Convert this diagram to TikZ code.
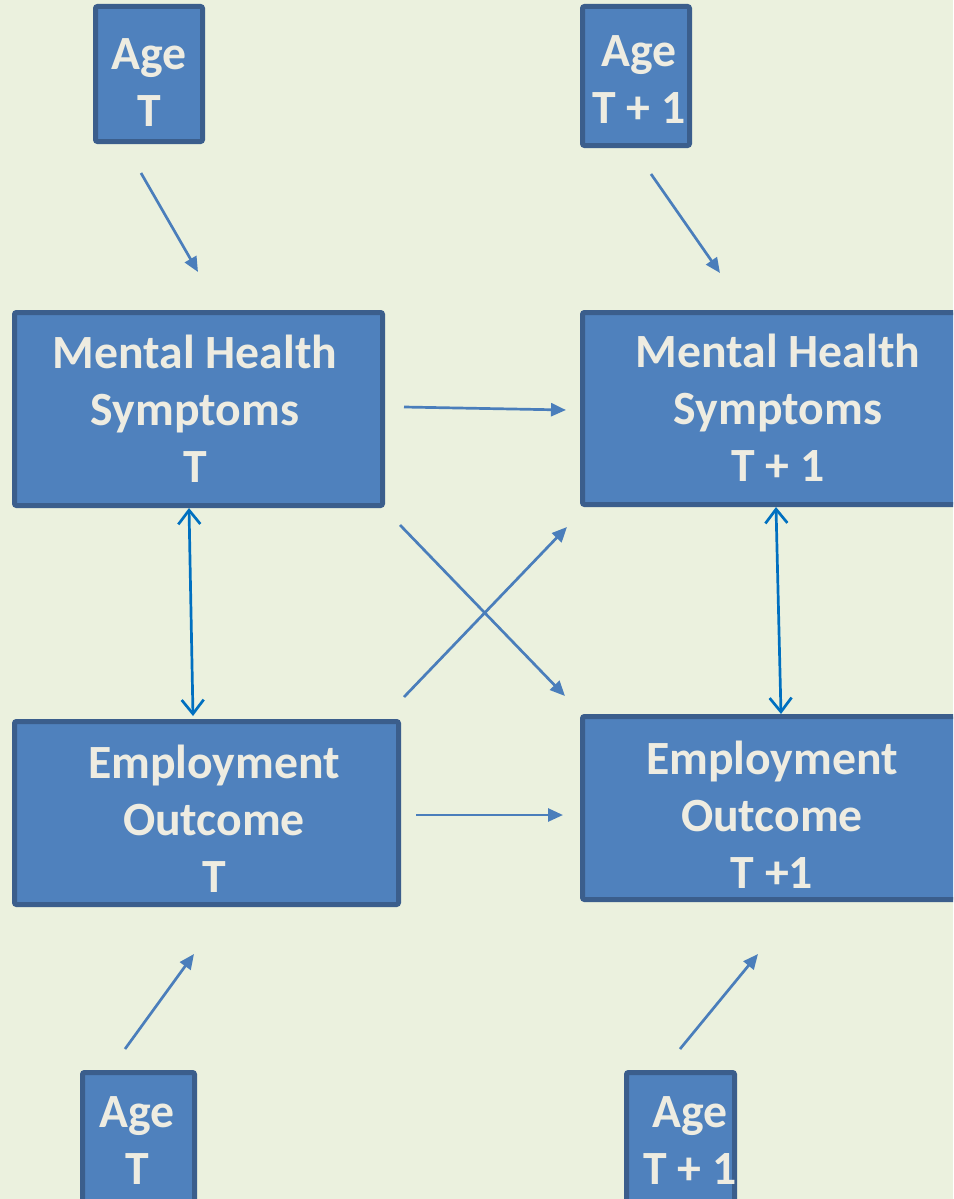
\documentclass[tikz,border=0pt]{standalone}
\usepackage{fontspec}
\setmainfont{Carlito}
\usetikzlibrary{arrows.meta}
\definecolor{bgc}{HTML}{EBF1DE}
\definecolor{boxfill}{HTML}{4F81BD}
\definecolor{boxline}{HTML}{3B5E8C}
\definecolor{txtc}{HTML}{EEECE1}
\definecolor{arrc}{HTML}{4A7EBB}
\definecolor{dblc}{HTML}{0070C0}
\tikzset{
  box/.style={draw=boxline, fill=boxfill, line width=5pt, rounded corners=2pt, inner sep=0pt},
  lbl/.style={text=txtc, font=\fontsize{47.7}{57}\selectfont\bfseries, align=center, inner sep=0pt},
  arr/.style={draw=arrc, line width=2.7pt, -{Triangle[length=15pt,width=13pt]}},
  dbl/.style={draw=dblc, line width=2.7pt, {Straight Barb[length=14pt,width=22pt,line width=2.7pt]}-{Straight Barb[length=14pt,width=22pt,line width=2.7pt]}}
}
\begin{document}
\begin{tikzpicture}[x=1pt,y=-1pt]
\useasboundingbox (0,0) rectangle (953,1199);
\fill[bgc] (0,0) rectangle (953,1199);
\clip (0,0) rectangle (953,1199);
% boxes
\node[box, minimum width=107pt, minimum height=135pt] (agetl) at (149,74) {};
\node[box, minimum width=107pt, minimum height=139pt] (agetr) at (636,76) {};
\node[box, minimum width=368pt, minimum height=193pt] (mht) at (198.5,409) {};
\node[box, minimum width=375pt, minimum height=192pt] (mht1) at (770,408.5) {};
\node[box, minimum width=384pt, minimum height=183pt] (empt) at (206.5,813) {};
\node[box, minimum width=375pt, minimum height=183pt] (empt1) at (770,808) {};
\node[box, minimum width=112pt, minimum height=145pt] (agebl) at (138.5,1145) {};
\node[box, minimum width=108pt, minimum height=145pt] (agebr) at (680.5,1145) {};
% labels
\node[lbl] (tagetl) at (149,83) {Age\\T};
\node[lbl] (tagetr) at (639,80) {Age\\T + 1};
\node[lbl] (tmht) at (195,409) {Mental Health\\Symptoms\\T};
\node[lbl] (tmht1) at (778,408) {Mental Health\\Symptoms\\T + 1};
\node[lbl] (tempt) at (214,819) {Employment\\Outcome\\T};
\node[lbl] (tempt1) at (772,815) {Employment\\Outcome\\T +1};
\node[lbl] (tagebl) at (137,1141) {Age\\T};
\node[lbl] (tagebr) at (690,1141) {Age\\T + 1};
% connector end points
\coordinate (a1s) at (141,173); \coordinate (a1e) at (198,272);
\coordinate (a2s) at (651,174); \coordinate (a2e) at (720,273);
\coordinate (hs) at (404,407);  \coordinate (he) at (566,410);
\coordinate (d1s) at (189,508); \coordinate (d1e) at (193,716);
\coordinate (d2s) at (776,507); \coordinate (d2e) at (781,714);
\coordinate (x1s) at (400,525); \coordinate (x1e) at (565,696);
\coordinate (x2s) at (404,697); \coordinate (x2e) at (567,527);
\coordinate (es) at (416,815);  \coordinate (ee) at (563,815);
\coordinate (b1s) at (125,1049); \coordinate (b1e) at (194,954);
\coordinate (b2s) at (680,1049); \coordinate (b2e) at (758,954);
% connectors
\draw[arr] (a1s) -- (a1e);
\draw[arr] (a2s) -- (a2e);
\draw[arr] (hs) -- (he);
\draw[dbl] (d1s) -- (d1e);
\draw[dbl] (d2s) -- (d2e);
\draw[arr] (x1s) -- (x1e);
\draw[arr] (x2s) -- (x2e);
\draw[arr] (es) -- (ee);
\draw[arr] (b1s) -- (b1e);
\draw[arr] (b2s) -- (b2e);
\end{tikzpicture}
\end{document}
